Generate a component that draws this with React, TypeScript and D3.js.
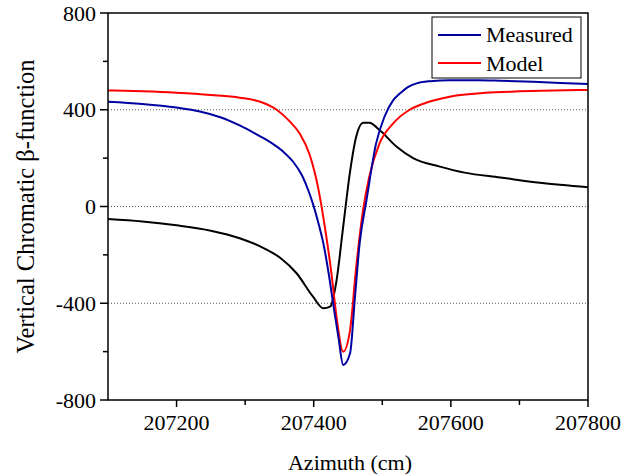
import React from "react";
import * as d3 from "d3";

const measuredAz = [207100, 207150, 207200, 207234, 207265, 207292, 207320, 207340, 207355, 207370, 207383, 207393, 207399, 207407, 207414, 207422, 207429, 207436, 207443, 207453, 207460, 207467, 207477, 207491, 207503, 207516, 207526, 207538, 207550, 207570, 207599, 207640, 207672, 207720, 207760, 207800];
const measuredVal = [433, 424, 409, 393, 368, 335, 293, 260, 228, 185, 128, 60, 10, -70, -152, -280, -414, -540, -655, -607, -380, -152, 27, 261, 370, 440, 468, 495, 509, 518, 522, 522, 520, 516, 511, 506];

const modelAz = [207100, 207150, 207200, 207250, 207292, 207325, 207346, 207365, 207380, 207394, 207407, 207416, 207426, 207433, 207443, 207453, 207462, 207472, 207481, 207496, 207516, 207540, 207560, 207600, 207650, 207700, 207750, 207800];
const modelVal = [480, 476, 470, 461, 450, 430, 400, 352, 300, 215, 70, -80, -280, -450, -600, -511, -249, -14, 123, 261, 344, 400, 425, 455, 470, 476, 480, 482];

const beatAz = [207100, 207150, 207200, 207250, 207292, 207322, 207351, 207375, 207399, 207414, 207424, 207433, 207443, 207453, 207462, 207472, 207481, 207496, 207521, 207545, 207584, 207620, 207672, 207730, 207800];
const beatVal = [-52, -62, -78, -100, -131, -165, -212, -276, -373, -421, -414, -311, -83, 144, 289, 346, 346, 316, 247, 200, 165, 140, 120, 98, 80];

const xTicks = [207200, 207400, 207600, 207800];
const xMinor = [207300, 207500, 207700];
const yTicks = [800, 400, 0, -400, -800];
const yMinor = [600, 200, -200, -600];
const gridVals = [400, 0, -400];

const seriesNames = ["Measured", "Model"];
const seriesColors = ["#0000a0", "#ff0000"];

const FONT = "'Liberation Serif', 'Times New Roman', Tinos, 'DejaVu Serif', serif";
const tStyle = { fontFamily: FONT };

export default function App() {
  const W = 627, H = 476;
  const left = 108, right = 588, top = 13, bottom = 400;
  const x = d3.scaleLinear().domain([207100, 207800]).range([left, right]);
  const y = d3.scaleLinear().domain([-800, 800]).range([bottom, top]);
  const line = d3
    .line<[number, number]>()
    .x((d) => x(d[0]))
    .y((d) => y(d[1]))
    .curve(d3.curveMonotoneX);
  const zip = (a: number[], b: number[]) => a.map((v, i) => [v, b[i]] as [number, number]);

  return (
    <svg
      width={W}
      height={H}
      style={{ position: "absolute", left: 0, top: 0, background: "#fff" }}
    >
      <defs>
        <clipPath id="plotclip">
          <rect x={left} y={top} width={right - left} height={bottom - top} />
        </clipPath>
      </defs>
      {gridVals.map((v) => (
        <line
          key={"g" + v}
          x1={left}
          x2={right}
          y1={y(v)}
          y2={y(v)}
          stroke="#555"
          strokeWidth={1}
          strokeDasharray="1,2"
        />
      ))}
      <g clipPath="url(#plotclip)" fill="none" strokeWidth={2} strokeLinejoin="round">
        <path d={line(zip(beatAz, beatVal)) || ""} stroke="#000" />
        <path d={line(zip(modelAz, modelVal)) || ""} stroke={seriesColors[1]} />
        <path d={line(zip(measuredAz, measuredVal)) || ""} stroke={seriesColors[0]} />
      </g>
      <rect x={left} y={top} width={right - left} height={bottom - top} fill="none" stroke="#000" strokeWidth={1.5} />
      {xTicks.map((t) => (
        <g key={"xt" + t}>
          <line x1={x(t)} x2={x(t)} y1={bottom} y2={bottom + 7} stroke="#000" strokeWidth={1.5} />
          <text x={x(t)} y={430} textAnchor="middle" fontSize={22} style={tStyle}>
            {t}
          </text>
        </g>
      ))}
      {xMinor.map((t) => (
        <line key={"xm" + t} x1={x(t)} x2={x(t)} y1={bottom} y2={bottom + 5} stroke="#000" strokeWidth={1.5} />
      ))}
      {yTicks.map((t) => (
        <g key={"yt" + t}>
          <line x1={left - 8} x2={left} y1={y(t)} y2={y(t)} stroke="#000" strokeWidth={1.5} />
          <text x={96} y={y(t) + 7.5} textAnchor="end" fontSize={22} style={tStyle}>
            {t}
          </text>
        </g>
      ))}
      {yMinor.map((t) => (
        <line key={"ym" + t} x1={left - 5} x2={left} y1={y(t)} y2={y(t)} stroke="#000" strokeWidth={1.5} />
      ))}
      <text x={(left + right) / 2 + 2} y={470} textAnchor="middle" fontSize={22} style={tStyle}>
        Azimuth (cm)
      </text>
      <text
        transform={`translate(34, ${(top + bottom) / 2}) rotate(-90)`}
        textAnchor="middle"
        fontSize={24.5}
        style={tStyle}
      >
        Vertical Chromatic β-function
      </text>
      <rect x={432} y={17} width={149} height={61} fill="#fff" stroke="#000" strokeWidth={1} />
      {seriesNames.map((n, i) => (
        <g key={n}>
          <line x1={438} x2={481} y1={35 + i * 28} y2={35 + i * 28} stroke={seriesColors[i]} strokeWidth={2} />
          <text x={486} y={42 + i * 29} fontSize={22} style={tStyle}>
            {n}
          </text>
        </g>
      ))}
    </svg>
  );
}
